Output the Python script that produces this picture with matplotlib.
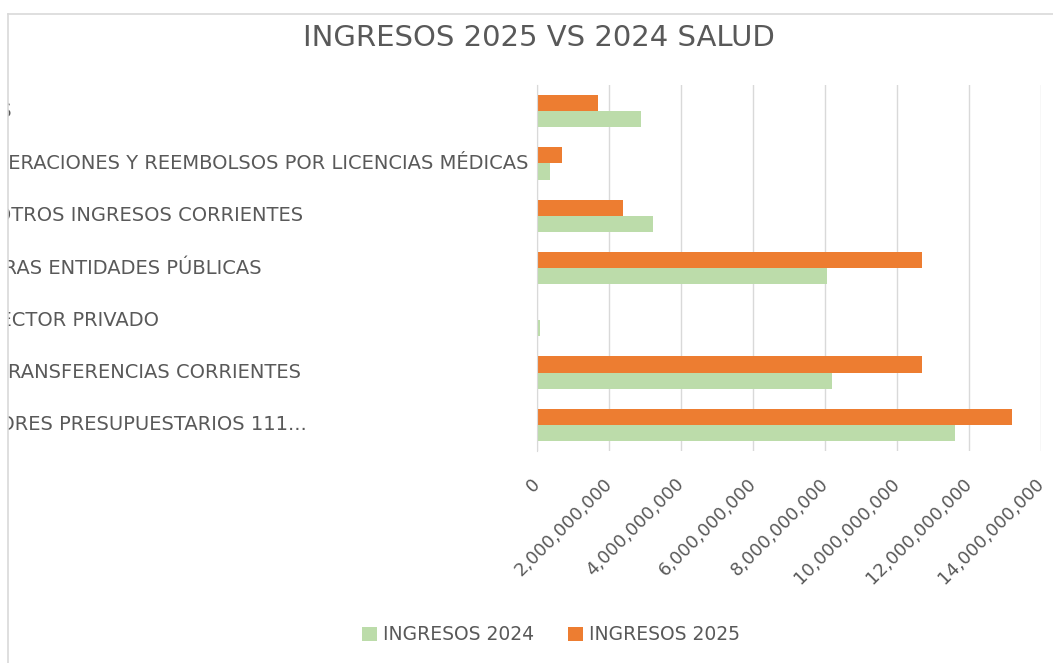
import matplotlib.pyplot as plt
import matplotlib.transforms as mtransforms
from matplotlib.patches import Rectangle
from matplotlib.lines import Line2D
from matplotlib.ticker import FuncFormatter

# categories listed top to bottom as they appear in the chart
categories = [
    '99 OTROS',
    '01 RECUPERACIONES Y REEMBOLSOS POR LICENCIAS MÉDICAS',
    '08 OTROS INGRESOS CORRIENTES',
    '03 DE OTRAS ENTIDADES PÚBLICAS',
    '01 DEL SECTOR PRIVADO',
    '05 TRANSFERENCIAS CORRIENTES',
    '11 DEUDORES PRESUPUESTARIOS 111...',
]
level = [1, 1, 0, 1, 1, 0, 1]  # indentation of the label

ingresos_2024 = [2.88e9, 0.34e9, 3.22e9, 8.06e9, 0.07e9, 8.18e9, 11.59e9]
ingresos_2025 = [1.69e9, 0.69e9, 2.38e9, 10.68e9, 0.005e9, 10.68e9, 13.19e9]

xticks = [0, 2e9, 4e9, 6e9, 8e9, 10e9, 12e9, 14e9]

green = '#bcdcaa'
orange = '#ed7d31'
grey_txt = '#595959'
grey_line = '#d9d9d9'

W, H = 1053, 663
fig = plt.figure(figsize=(W / 100, H / 100), dpi=100)
ax = fig.add_axes([537.3 / W, 1 - 451 / H, (1041.3 - 537.3) / W, (451 - 85) / H])

n = len(categories)
ypos = [n - 1 - i for i in range(n)]
h = 0.31
ax.barh([y - h / 2 for y in ypos], ingresos_2024, height=h, color=green,
        label='INGRESOS 2024', zorder=3)
ax.barh([y + h / 2 for y in ypos], ingresos_2025, height=h, color=orange,
        label='INGRESOS 2025', zorder=3)

ax.set_xlim(0, 14e9)
ax.set_ylim(-0.5, n - 0.5)
ax.set_xticks(xticks)
ax.xaxis.set_major_formatter(FuncFormatter(lambda v, p: f'{v:,.0f}'))
ax.tick_params(axis='x', length=0, pad=22, labelsize=13, labelcolor=grey_txt)
for lab in ax.get_xticklabels():
    lab.set_rotation(45)
    lab.set_ha('right')
    lab.set_va('center')
    lab.set_rotation_mode('anchor')
ax.set_yticks([])
ax.grid(axis='x', color=grey_line, lw=1, zorder=0)
for s in ['top', 'right', 'bottom']:
    ax.spines[s].set_visible(False)
ax.spines['left'].set_color(grey_line)
ax.spines['left'].set_zorder(4)

# category labels, left aligned (cut off by the chart border)
trans = mtransforms.blended_transform_factory(fig.transFigure, ax.transData)
for cat, lv, y in zip(categories, level, ypos):
    x0 = (-35 if lv == 0 else -88) / W
    ax.text(x0, y, cat, transform=trans, ha='left', va='center',
            fontsize=14, color=grey_txt, clip_on=False)

# chart area border at the left / top
fig.add_artist(Rectangle((0, 0), 8 / W, 1, transform=fig.transFigure,
                         facecolor='white', edgecolor='none', zorder=5))
fig.add_artist(Rectangle((0, 1 - 14 / H), 1, 14 / H, transform=fig.transFigure,
                         facecolor='white', edgecolor='none', zorder=5))
fig.add_artist(Line2D([8 / W, 8 / W], [0, 1 - 14 / H], transform=fig.transFigure,
                      color=grey_line, lw=1.2, zorder=6))
fig.add_artist(Line2D([8 / W, 1], [1 - 14 / H, 1 - 14 / H], transform=fig.transFigure,
                      color=grey_line, lw=1.2, zorder=6))

fig.text(538.5 / W, 1 - 38 / H, 'INGRESOS 2025 VS 2024 SALUD', ha='center',
         va='center', fontsize=21, color=grey_txt)

fig.legend(loc='center', bbox_to_anchor=(551 / W, 1 - 635 / H), ncol=2,
           frameon=False, fontsize=13.5, labelcolor=grey_txt, handlelength=0.8,
           handleheight=0.8, handletextpad=0.3, columnspacing=1.8)

fig.savefig('out.png', dpi=100)
